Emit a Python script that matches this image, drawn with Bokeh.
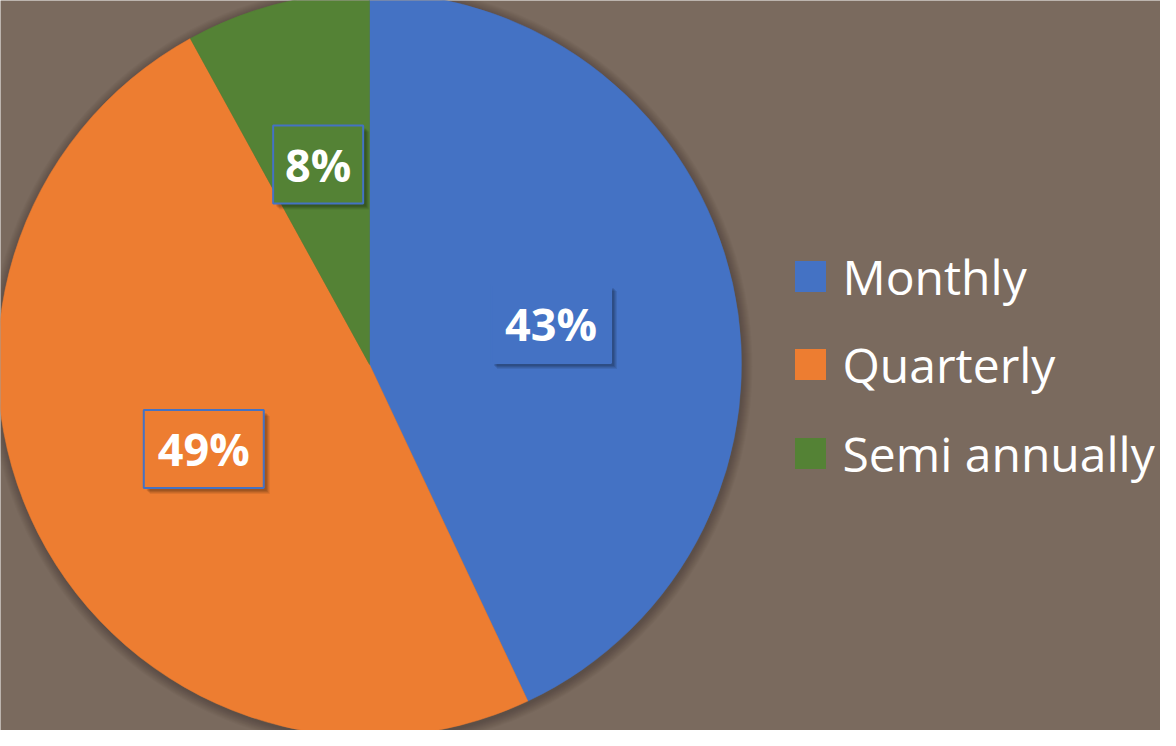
import math
from bokeh.plotting import figure
from bokeh.models import Range1d, ColumnDataSource
from bokeh.core.properties import value
from bokeh.embed import file_html
from bokeh.resources import INLINE

# ---- data ----
categories = ["Monthly", "Quarterly", "Semi annually"]
shares = [43, 49, 8]
colors = ["#4472C4", "#ED7D31", "#548235"]
labels = ["43%", "49%", "8%"]

# ---- style / layout ----
BG = "#7A6A5E"
W, H = 1160, 730
CX, CY = 377, 746 - 372     # pie centre in page-pixel coordinates (y up)
R = 372
label_frac = [0.5, 0.5, 0.555]
FONT = "Open Sans"

p = figure(width=W, height=H, output_backend="svg", toolbar_location=None,
           x_range=Range1d(8, 8 + W), y_range=Range1d(746 - 8 - H, 746 - 8),
           min_border=0, background_fill_color=BG, border_fill_color=BG)
p.axis.visible = False
p.grid.visible = False
p.outline_line_color = None

# soft shadow around pie
for k in range(10, 0, -1):
    p.circle(x=CX + 1, y=CY - 2, radius=R + k, fill_color="black",
             fill_alpha=0.022, line_color=None)

total = float(sum(shares))
starts, ends, cum = [], [], 0.0
lx, ly, widths = [], [], []
for i, s in enumerate(shares):
    a0 = math.pi / 2 - 2 * math.pi * cum / total
    mid = cum + s / 2.0
    cum += s
    a1 = math.pi / 2 - 2 * math.pi * cum / total
    starts.append(a0)
    ends.append(a1)
    am = math.pi / 2 - 2 * math.pi * mid / total
    lx.append(CX + label_frac[i] * R * math.cos(am))
    ly.append(CY + label_frac[i] * R * math.sin(am))
    widths.append(30 * len(labels[i]) + 30)

src = ColumnDataSource(dict(cat=categories, share=shares, color=colors,
                            start=starts, end=ends, lx=lx, ly=ly,
                            w=widths, label=labels))

p.wedge(x=CX, y=CY, radius=R, start_angle="start", end_angle="end",
        direction="clock", fill_color="color", line_color="color",
        line_width=0.5, source=src)

# label boxes with soft shadow
for k, a in [(6, 0.08), (5, 0.08), (4, 0.1), (3, 0.1)]:
    p.rect(x=[x + k for x in lx], y=[y - k for y in ly], width=widths,
           height=78, fill_color="black", fill_alpha=a, line_color=None)
p.rect(x="lx", y="ly", width="w", height=78, fill_color="color",
       line_color="#4472C4", line_width=2, source=src)
p.text(x="lx", y="ly", text="label", text_color="white",
       text_font=value(FONT), text_font_style="bold", text_font_size="45px",
       text_align="center", text_baseline="middle", source=src)

# legend
leg_y = [746 - 284, 746 - 372, 746 - 461]
lsrc = ColumnDataSource(dict(cat=categories, color=colors, y=leg_y,
                             bx=[818] * 3, tx=[850] * 3))
p.rect(x="bx", y="y", width=31, height=31, fill_color="color",
       line_color=None, source=lsrc)
p.text(x="tx", y="y", text="cat", text_color="white", text_font=value(FONT),
       text_font_size="48px", text_align="left", text_baseline="middle",
       source=lsrc)

open("out.html", "w").write(file_html(p, INLINE))
